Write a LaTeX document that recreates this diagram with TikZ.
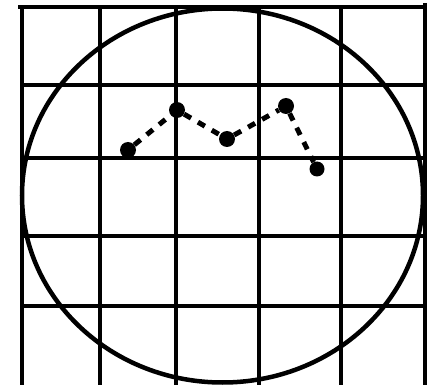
\documentclass[tikz,border=0pt]{standalone}
\begin{document}
\begin{tikzpicture}[x=1pt,y=-1pt,
  gridline/.style={line width=4.5pt},
  rim/.style={line width=4.5pt},
  dot/.style={circle,fill=black,inner sep=0pt,minimum size=16pt},
  conn/.style={line width=5pt,dash pattern=on 8pt off 8pt}]
\useasboundingbox (0,0) rectangle (434,385);
% grid
\draw[gridline] (18,7) -- (425,7);
\foreach \y in {85,158,236,306} \draw[gridline] (22,\y) -- (425,\y);
\foreach \x in {22,100,176,259,341} \draw[gridline] (\x,7) -- (\x,385);
\draw[gridline] (425,3) -- (425,385);
% circle
\draw[rim] (222.5,195.5) ellipse [x radius=200.5pt, y radius=187pt];
% data
\node[dot] (p1) at (128,150) {};
\node[dot] (p2) at (177,110) {};
\node[dot] (p3) at (227,139) {};
\node[dot] (p4) at (286,106) {};
\node[dot,minimum size=15pt] (p5) at (317,169) {};
\draw[conn] (p1) -- (p2);
\draw[conn] (p2) -- (p3);
\draw[conn] (p3) -- (p4);
\draw[conn] (p4) -- (p5);
\end{tikzpicture}
\end{document}
